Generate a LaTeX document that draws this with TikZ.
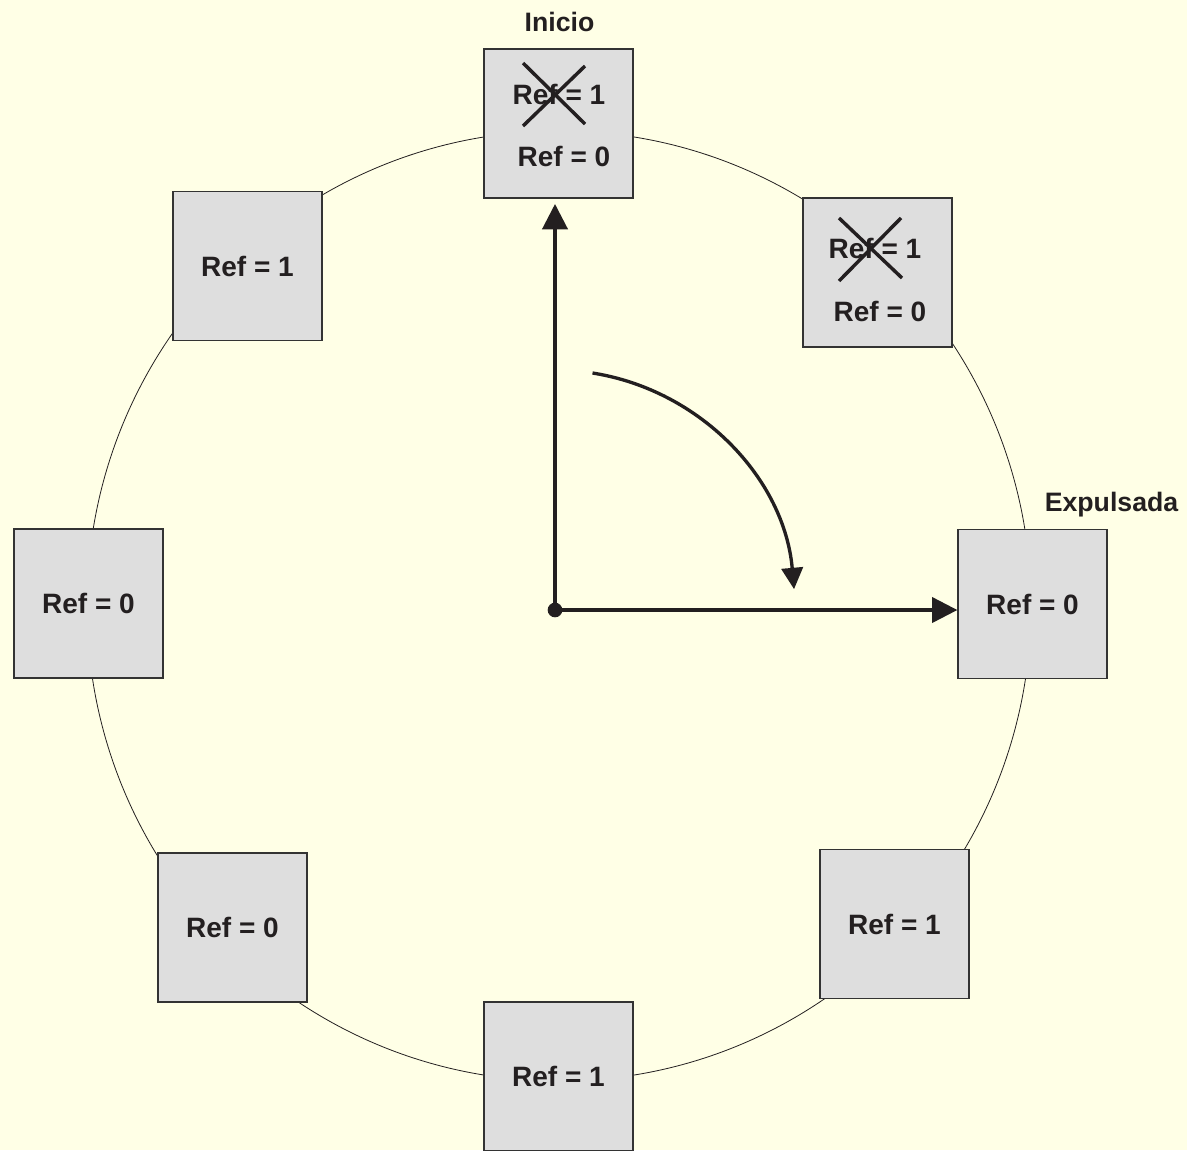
\documentclass[tikz,border=0pt]{standalone}
\usepackage{fontspec}
\setmainfont{Liberation Sans}
\usetikzlibrary{arrows.meta}
\definecolor{bg}{RGB}{255,255,230}
\definecolor{boxfill}{RGB}{222,222,222}
\definecolor{boxline}{RGB}{51,51,51}
\definecolor{ink}{RGB}{35,31,32}
\tikzset{
  refbox/.style={draw=boxline, line width=1pt, fill=boxfill, minimum width=111.75pt, minimum height=111.75pt, inner sep=0pt, text=ink, font=\fontsize{21}{24}\selectfont\bfseries},
  reftext/.style={text=ink, font=\fontsize{21}{24}\selectfont\bfseries, inner sep=0pt},
  lbl/.style={text=ink, font=\fontsize{20}{24}\selectfont\bfseries, inner sep=0pt, anchor=base},
  axisline/.style={draw=ink, line width=2.3pt, -{Triangle[length=19pt,width=19pt]}},
  curvearrow/.style={draw=ink, line width=2.5pt, -{Triangle[length=16pt,width=16pt]}},
  crossline/.style={draw=ink, line width=2.6pt},
  ring/.style={draw=ink, line width=0.6pt},
  dotnode/.style={circle, fill=ink, minimum size=11pt, inner sep=0pt}
}
\begin{document}
\begin{tikzpicture}[x=0.75pt,y=-0.75pt]
\fill[bg] (0,0) rectangle (1187,1150);
\useasboundingbox (0,0) rectangle (1187,1150);
% ring
\draw[ring] (559,606) ellipse [x radius=472, y radius=475];
% boxes
\node[refbox] (top) at (558.5,123.5) {};
\node[refbox] (tr) at (877.5,272.5) {};
\node[refbox] (right) at (1032.5,604) {Ref = 0};
\node[refbox] (br) at (894.5,924) {Ref = 1};
\node[refbox] (bottom) at (558.5,1076.5) {Ref = 1};
\node[refbox] (bl) at (232.5,927.5) {Ref = 0};
\node[refbox] (left) at (88.5,603.5) {Ref = 0};
\node[refbox] (tl) at (247.5,266) {Ref = 1};
% texts in top boxes
\node[reftext] (t1) at (559,94) {Ref = 1};
\node[reftext] (t0) at (564,156) {Ref = 0};
\node[reftext] (r1) at (875,248) {Ref = 1};
\node[reftext] (r0) at (880,311) {Ref = 0};
% crosses
\coordinate (ca1) at (523,63); \coordinate (ca2) at (585,124);
\coordinate (ca3) at (523,126); \coordinate (ca4) at (585,66);
\draw[crossline] (ca1) -- (ca2);
\draw[crossline] (ca3) -- (ca4);
\coordinate (cb1) at (839,218); \coordinate (cb2) at (902,278);
\coordinate (cb3) at (839,281); \coordinate (cb4) at (901,218);
\draw[crossline] (cb1) -- (cb2);
\draw[crossline] (cb3) -- (cb4);
% labels
\node[lbl] (inicio) at (559.5,31) {Inicio};
\node[lbl] (expulsada) at (1111.5,511) {Expulsada};
% axes
\node[dotnode] (o) at (555,610) {};
\draw[axisline] (o.center) -- ([yshift=-4pt]o |- top.south);
\draw[axisline] (o.center) -- (o -| right.west);
% rotation arrow
\coordinate (cstart) at (592.5,373);
\draw[curvearrow] (cstart) arc[start angle=-81, end angle=-5, radius=240];
\end{tikzpicture}
\end{document}
